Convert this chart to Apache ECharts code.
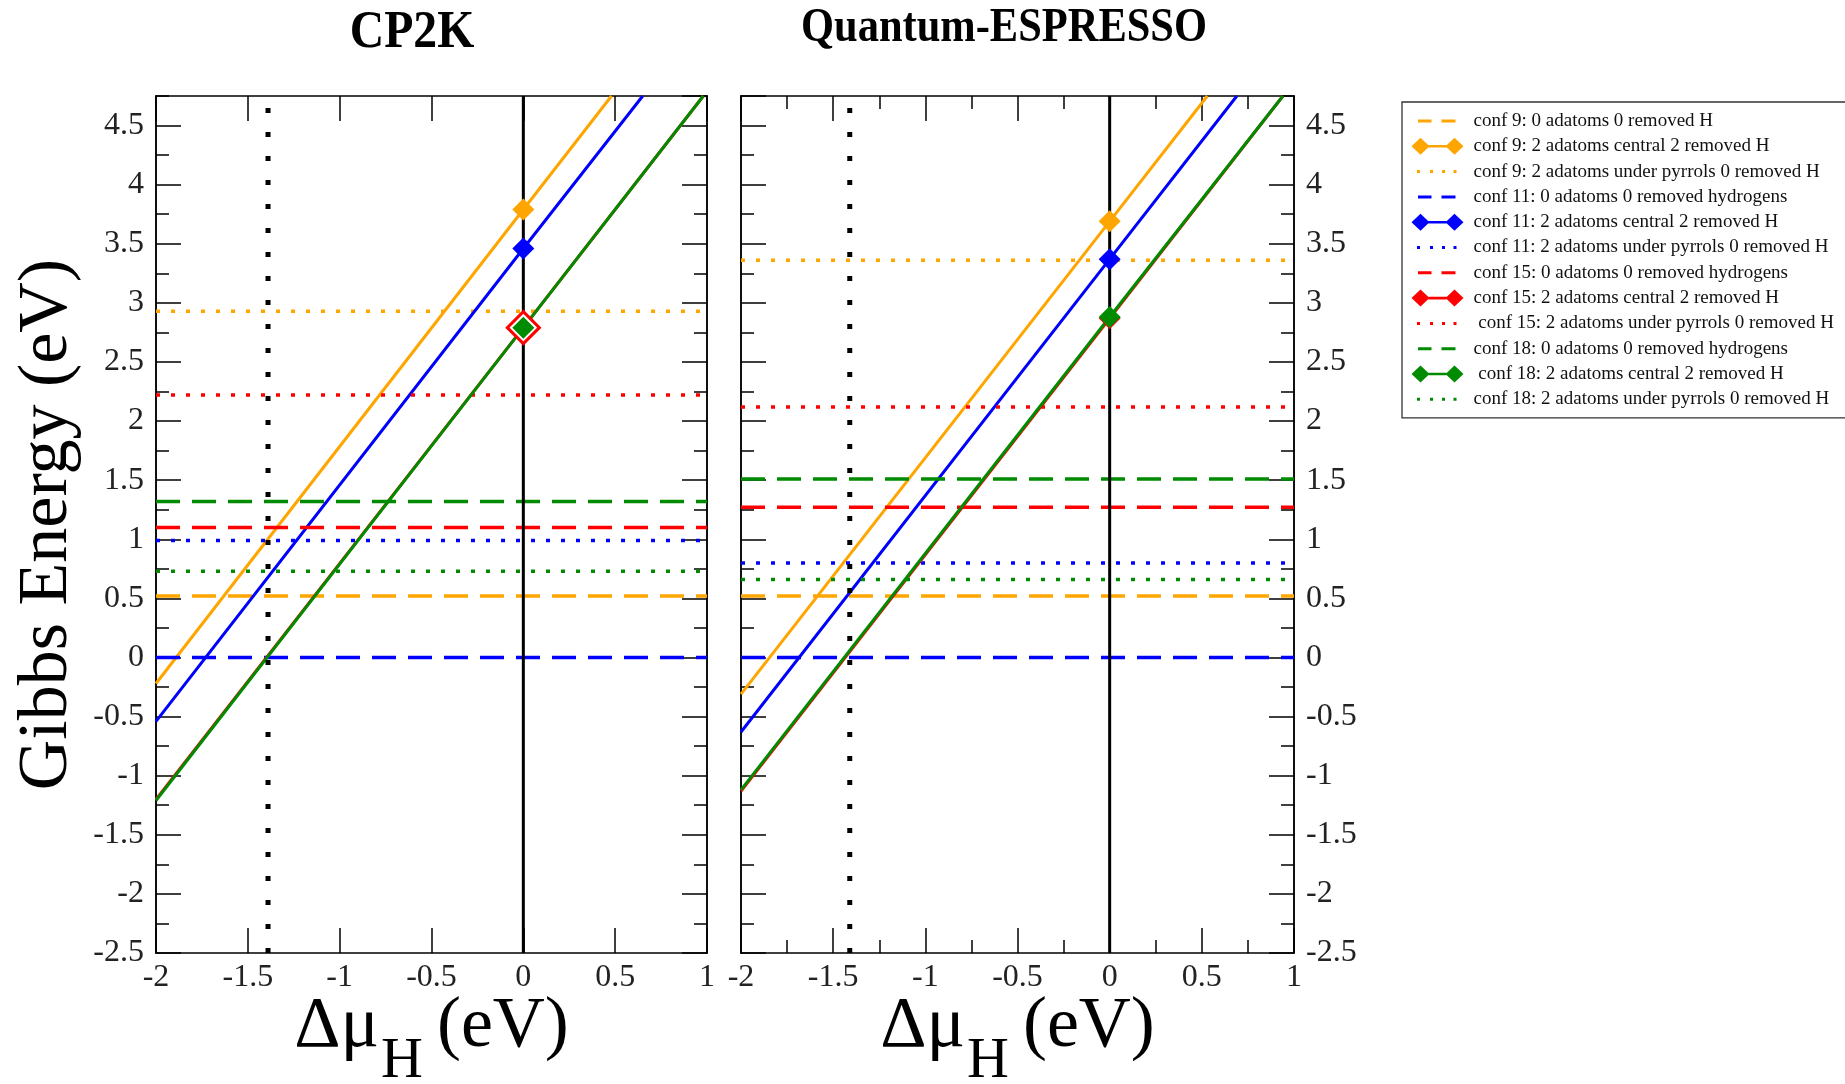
<!DOCTYPE html>
<html>
<head>
<meta charset="utf-8">
<title>Gibbs energy vs delta mu H</title>
<script src="https://cdn.jsdelivr.net/npm/echarts@6/dist/echarts.min.js"></script>
<style>
    html, body {margin: 0; padding: 0; background: #fff;}
    #main {width: 1845px; height: 1084px;}
</style>
</head>
<body>
<div id="main"></div>
<script>
// legend entries, same order as the legend box (dashed / diamond line / dotted per conf)
const names = [
    'conf 9: 0 adatoms 0 removed H',
    'conf 9: 2 adatoms central 2 removed H',
    'conf 9: 2 adatoms under pyrrols 0 removed H',
    'conf 11: 0 adatoms 0 removed hydrogens',
    'conf 11: 2 adatoms central 2 removed H',
    'conf 11: 2 adatoms under pyrrols 0 removed H',
    'conf 15: 0 adatoms 0 removed hydrogens',
    'conf 15: 2 adatoms central 2 removed H',
    ' conf 15: 2 adatoms under pyrrols 0 removed H',
    'conf 18: 0 adatoms 0 removed hydrogens',
    ' conf 18: 2 adatoms central 2 removed H',
    'conf 18: 2 adatoms under pyrrols 0 removed H'
];
const titles = ['CP2K', 'Quantum-ESPRESSO'];
const xRange = [-2, 1];
const yRange = [-2.5, 4.75];

// conf 9, 11, 15, 18 -- CP2K
const cp2kBare = [0.52, 0.00, 1.10, 1.32];
const cp2kPyrrol = [2.93, 0.99, 2.22, 0.73];
const cp2kCentral = [
    [[-2, -0.22], [0, 3.79], [0.48, 4.75]],
    [[-2, -0.54], [0, 3.46], [0.65, 4.75]],
    [[-2, -1.20], [0, 2.79], [0.98, 4.75]],
    [[-2, -1.21], [0, 2.79], [0.98, 4.75]]
];
// conf 9, 11, 15, 18 -- Quantum-ESPRESSO
const qeBare = [0.52, 0.00, 1.27, 1.51];
const qePyrrol = [3.36, 0.80, 2.12, 0.66];
const qeCentral = [
    [[-2, -0.31], [0, 3.69], [0.53, 4.75]],
    [[-2, -0.63], [0, 3.37], [0.69, 4.75]],
    [[-2, -1.13], [0, 2.87], [0.94, 4.75]],
    [[-2, -1.12], [0, 2.88], [0.94, 4.75]]
];
// vertical markers: x = 0 and the dotted limit of delta mu
const zeroX = [0, 0];
const muLimit = [-1.39, -1.41];

const colors = ['#ffa500', '#0000ff', '#ff0000', '#008b00'];
const FONT = 'Liberation Serif';

// legend icons, 52x17 boxes (tiny corner triangles keep the box size)
const corners = 'M0,0L0.01,0L0,0.01Z M52,17L51.99,17L52,16.99Z ';
const iconDash = 'path://' + corners + 'M6.5,7L20,7L20,10L6.5,10Z M30,7L44,7L44,10L30,10Z';
const iconDot = 'path://' + corners + 'M5.5,7L8.5,7L8.5,10L5.5,10Z M18.5,7L21.5,7L21.5,10L18.5,10Z M30.5,7L33.5,7L33.5,10L30.5,10Z M42,7L45,7L45,10L42,10Z';
const iconDiamond = 'path://M0,8.5L9,0L18,8.5L9,17Z M17,7.2L35,7.2L35,9.8L17,9.8Z M34,8.5L43,0L52,8.5L43,17Z';
const icons = [iconDash, iconDiamond, iconDot];

const labelStyle = {fontFamily: FONT, fontSize: 32, color: '#222'};
const axisLineStyle = {color: '#000', width: 1.5};

function xAx(grid, pos, labels, minor, extra) {
    return Object.assign({
        type: 'value', gridIndex: grid, position: pos,
        min: xRange[0], max: xRange[1], interval: 0.5,
        axisLine: {show: true, onZero: false, lineStyle: axisLineStyle},
        axisTick: {show: true, inside: true, length: 25, lineStyle: axisLineStyle},
        minorTick: {show: minor, splitNumber: 2, length: 13, lineStyle: axisLineStyle},
        axisLabel: Object.assign({show: labels, margin: 9, showMinLabel: true, showMaxLabel: true}, labelStyle),
        splitLine: {show: false},
        minorSplitLine: {show: false}
    }, extra || {});
}

function yAx(grid, pos, major, labels, extra) {
    return Object.assign({
        type: 'value', gridIndex: grid, position: pos,
        min: yRange[0], max: yRange[1], interval: major ? 0.5 : 0.25,
        axisLine: {show: true, onZero: false, lineStyle: axisLineStyle},
        axisTick: {show: true, inside: true, length: major ? 25 : 13, lineStyle: axisLineStyle},
        axisLabel: Object.assign({show: labels, margin: 12, showMinLabel: true, showMaxLabel: false}, labelStyle),
        splitLine: {show: false}
    }, extra || {});
}

const xName = {
    name: '{a|Δμ}{h|H}{a|(eV)}',
    nameLocation: 'middle',
    nameGap: 38,
    nameMoveOverlap: false,
    nameTextStyle: {
        rich: {
            a: {fontFamily: FONT, fontSize: 72, color: '#000', lineHeight: 74, verticalAlign: 'top'},
            h: {fontFamily: FONT, fontSize: 58, color: '#000', lineHeight: 58, verticalAlign: 'top', padding: [42, 14, 0, 2]}
        }
    }
};
const yName = {
    name: 'Gibbs Energy (eV)',
    nameLocation: 'middle',
    nameRotate: 90,
    nameGap: 73,
    nameMoveOverlap: false,
    nameTextStyle: {fontFamily: FONT, fontSize: 70, color: '#000'}
};

function plotSeries(g, bare, pyrrol, central, mu) {
    const xi = g * 2, yi = g * 4;
    const out = [];
    for (let c = 0; c < 4; c++) {
        out.push({
            name: names[c * 3], type: 'line', xAxisIndex: xi, yAxisIndex: yi,
            data: xRange.map(function (x) { return [x, bare[c]]; }),
            symbol: 'none', silent: true,
            itemStyle: {color: colors[c]},
            lineStyle: {color: colors[c], width: 3.5, type: [24, 12]}
        });
        // red diamond in the CP2K panel shows only as a ring round the green one
        const ring = g === 0 && c === 2;
        out.push({
            name: names[c * 3 + 1], type: 'line', xAxisIndex: xi, yAxisIndex: yi,
            data: central[c].map(function (p) {
                if (p[0] !== 0) return {value: p, symbol: 'none'};
                if (ring) return {value: p, symbolSize: 32, itemStyle: {color: '#fff', borderColor: colors[c], borderWidth: 3}};
                return {value: p};
            }),
            symbol: 'diamond', symbolSize: 22, silent: true,
            itemStyle: {color: colors[c]},
            lineStyle: {color: colors[c], width: 3}
        });
        out.push({
            name: names[c * 3 + 2], type: 'line', xAxisIndex: xi, yAxisIndex: yi,
            data: xRange.map(function (x) { return [x, pyrrol[c]]; }),
            symbol: 'none', silent: true,
            itemStyle: {color: colors[c]},
            lineStyle: {color: colors[c], width: 3.5, type: [4, 11]}
        });
    }
    out.push({
        type: 'line', xAxisIndex: xi, yAxisIndex: yi, symbol: 'none', silent: true,
        data: yRange.map(function (y, i) { return [zeroX[i], y]; }),
        lineStyle: {color: '#000', width: 3}
    });
    out.push({
        type: 'line', xAxisIndex: xi, yAxisIndex: yi, symbol: 'none', silent: true,
        data: yRange.map(function (y) { return [mu, y]; }),
        lineStyle: {color: '#000', width: 5, type: [5, 19]}
    });
    return out;
}

const chart = echarts.init(document.getElementById('main'));
chart.setOption({
    animation: false,
    backgroundColor: '#fff',
    grid: [
        {left: 156, top: 96, width: 551, height: 857, outerBoundsMode: 'none'},
        {left: 741, top: 96, width: 553, height: 857, outerBoundsMode: 'none'}
    ],
    graphic: [
        {type: 'text', x: 412, y: 33, scaleX: 0.9, silent: true,
            style: {text: titles[0], font: 'bold 53px "Liberation Serif"', fill: '#000', align: 'center', verticalAlign: 'middle'}},
        {type: 'text', x: 1004, y: 29, scaleX: 0.885, silent: true,
            style: {text: titles[1], font: 'bold 48px "Liberation Serif"', fill: '#000', align: 'center', verticalAlign: 'middle'}}
    ],
    legend: {
        orient: 'vertical', left: 1402, top: 102,
        padding: [9.5, 12, 9, 9.5],
        itemWidth: 52, itemHeight: 17, itemGap: 6.3,
        selectedMode: false,
        borderColor: '#333', borderWidth: 1.3,
        itemStyle: {borderWidth: 0},
        textStyle: {fontFamily: FONT, fontSize: 19, color: '#111', lineHeight: 17, padding: [0, 0, 0, 5]},
        data: names.map(function (n, i) { return {name: n, icon: icons[i % 3]}; })
    },
    xAxis: [
        xAx(0, 'bottom', true, false, xName),
        xAx(0, 'top', false, false),
        xAx(1, 'bottom', true, true, xName),
        xAx(1, 'top', false, true)
    ],
    yAxis: [
        yAx(0, 'left', true, true, yName),
        yAx(0, 'left', false, false),
        yAx(0, 'right', true, false),
        yAx(0, 'right', false, false),
        yAx(1, 'right', true, true),
        yAx(1, 'right', false, false),
        yAx(1, 'left', true, false),
        yAx(1, 'left', false, false)
    ],
    series: plotSeries(0, cp2kBare, cp2kPyrrol, cp2kCentral, muLimit[0])
        .concat(plotSeries(1, qeBare, qePyrrol, qeCentral, muLimit[1]))
});
</script>
</body>
</html>
